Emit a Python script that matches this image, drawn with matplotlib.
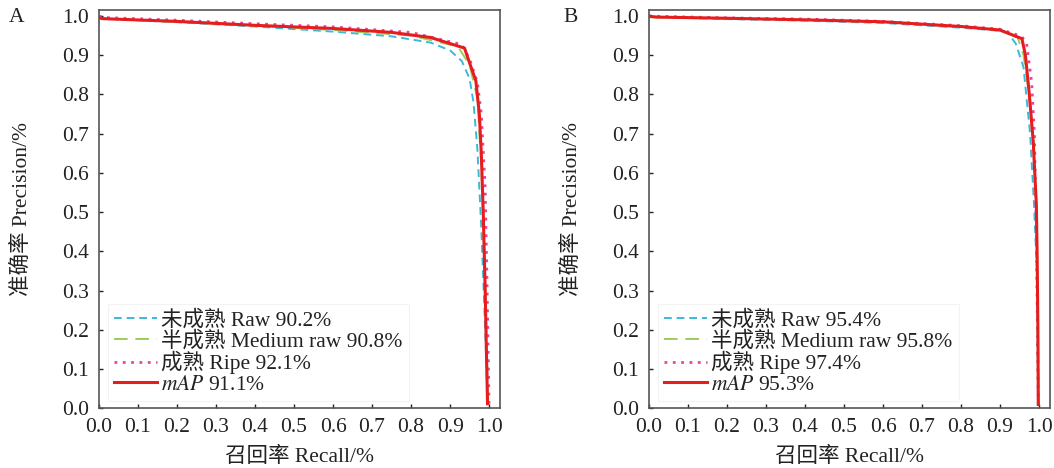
import matplotlib
matplotlib.use("Agg")
import matplotlib.pyplot as plt

plt.rcParams['font.family'] = ['Liberation Serif', 'Noto Sans CJK SC']
plt.rcParams['mathtext.fontset'] = 'stix'

# ---------------- data ----------------
xticks = [0.0, 0.1, 0.2, 0.3, 0.4, 0.5, 0.6, 0.7, 0.8, 0.9, 1.0]
yticks = [0.0, 0.1, 0.2, 0.3, 0.4, 0.5, 0.6, 0.7, 0.8, 0.9, 1.0]

labels_a = ['未成熟 Raw 90.2%', '半成熟 Medium raw 90.8%', '成熟 Ripe 92.1%', r'$mAP$ 91.1%']
labels_b = ['未成熟 Raw 95.4%', '半成熟 Medium raw 95.8%', '成熟 Ripe 97.4%', r'$mAP$ 95.3%']

# Panel A curves
a_raw_r = [0.0, 0.01, 0.2, 0.4, 0.6, 0.75, 0.85, 0.9, 0.93, 0.95, 0.96, 0.97, 0.98, 0.99, 0.997]
a_raw_p = [0.998, 0.993, 0.984, 0.973, 0.960, 0.948, 0.932, 0.912, 0.885, 0.840, 0.780, 0.660, 0.460, 0.200, 0.0]
a_med_r = [0.0, 0.01, 0.2, 0.4, 0.6, 0.8, 0.92, 0.95, 0.97, 0.98, 0.99, 0.998]
a_med_p = [0.996, 0.993, 0.985, 0.975, 0.964, 0.950, 0.922, 0.875, 0.790, 0.620, 0.320, 0.0]
a_rip_r = [0.0, 0.01, 0.2, 0.4, 0.6, 0.8, 0.93, 0.95, 0.97, 0.98, 0.99, 0.995, 1.0]
a_rip_p = [1.0, 0.996, 0.989, 0.980, 0.972, 0.958, 0.927, 0.890, 0.830, 0.750, 0.560, 0.300, 0.0]
a_map_r = [0.0, 0.01, 0.2, 0.4, 0.6, 0.75, 0.85, 0.937, 0.95, 0.966, 0.975, 0.98, 0.985, 0.99, 0.993, 0.996]
a_map_p = [0.995, 0.993, 0.986, 0.976, 0.968, 0.958, 0.945, 0.918, 0.880, 0.835, 0.750, 0.650, 0.500, 0.300, 0.150, 0.012]

# Panel B curves
b_raw_r = [0.0, 0.02, 0.2, 0.4, 0.6, 0.8, 0.9, 0.921, 0.94, 0.96, 0.977, 0.987, 0.994, 0.998]
b_raw_p = [0.998, 0.997, 0.992, 0.988, 0.982, 0.970, 0.962, 0.955, 0.930, 0.870, 0.700, 0.520, 0.360, 0.020]
b_med_r = [0.0, 0.02, 0.2, 0.4, 0.6, 0.8, 0.9, 0.945, 0.96, 0.975, 0.985, 0.992, 0.996, 0.999]
b_med_p = [0.997, 0.996, 0.993, 0.990, 0.984, 0.972, 0.963, 0.945, 0.900, 0.800, 0.680, 0.520, 0.300, 0.010]
b_rip_r = [0.0, 0.02, 0.2, 0.4, 0.6, 0.8, 0.9, 0.955, 0.968, 0.981, 0.988, 0.993, 0.998]
b_rip_p = [1.0, 0.999, 0.995, 0.992, 0.986, 0.975, 0.966, 0.948, 0.930, 0.830, 0.700, 0.450, 0.010]
b_map_r = [0.0, 0.02, 0.2, 0.4, 0.6, 0.8, 0.9, 0.956, 0.965, 0.975, 0.985, 0.993, 0.995, 0.997, 0.998]
b_map_p = [0.999, 0.997, 0.994, 0.990, 0.985, 0.973, 0.964, 0.942, 0.900, 0.800, 0.680, 0.520, 0.400, 0.200, 0.010]

# ---------------- styles ----------------
c_raw = '#3cb8d8'
c_med = '#9ccc5c'
c_rip = '#e8449c'
c_map = '#e61d1d'

fig = plt.figure(figsize=(10.54, 4.68), dpi=100)
ax_a = fig.add_axes([0.0939, 0.1273, 0.3805, 0.8513])
ax_b = fig.add_axes([0.6157, 0.1273, 0.3805, 0.8513])

FS = 15.5

def draw(ax, raw, med, rip, mp, labels):
    ax.plot(raw[0], raw[1], color=c_raw, lw=1.4, ls=(0, (4, 2.5)), label=labels[0])
    ax.plot(med[0], med[1], color=c_med, lw=1.4, ls=(0, (7, 4)), label=labels[1])
    ax.plot(rip[0], rip[1], color=c_rip, lw=2.0, ls=(0, (1, 2)), label=labels[2])
    ax.plot(mp[0], mp[1], color=c_map, lw=2.2, ls='-', label=labels[3])
    ax.set_xlim(0, 1.028)
    ax.set_ylim(0, 1.015)
    ax.set_xticks(xticks)
    ax.set_yticks(yticks)
    ax.set_xticklabels([f'{v:.1f}' for v in xticks])
    ax.set_yticklabels([f'{v:.1f}' for v in yticks])
    ax.tick_params(direction='in', length=3, width=1, labelsize=FS, colors='#222222',
                   pad=7)
    for s in ax.spines.values():
        s.set_color('#555555')
        s.set_linewidth(1.2)
    ax.set_xlabel('召回率 Recall/%', fontsize=FS, color='#222222')
    ax.set_ylabel('准确率 Precision/%', fontsize=FS, color='#222222')
    ax.xaxis.set_label_coords(0.5, -0.097)
    ax.yaxis.set_label_coords(-0.167, 0.5)
    leg = ax.legend(loc='lower left', bbox_to_anchor=(0.0, -0.003), fontsize=FS,
                    frameon=True, fancybox=False, edgecolor='#f0f0f0',
                    handlelength=2.0, handletextpad=0.2, labelspacing=0.0,
                    borderpad=0.3, borderaxespad=0.4)
    leg.get_frame().set_linewidth(0.8)
    for t in leg.get_texts():
        t.set_color('#222222')

draw(ax_a, (a_raw_r, a_raw_p), (a_med_r, a_med_p), (a_rip_r, a_rip_p), (a_map_r, a_map_p), labels_a)
draw(ax_b, (b_raw_r, b_raw_p), (b_med_r, b_med_p), (b_rip_r, b_rip_p), (b_map_r, b_map_p), labels_b)

fig.text(0.008, 0.962, 'A', fontsize=FS, color='#222222', va='center')
fig.text(0.535, 0.962, 'B', fontsize=FS, color='#222222', va='center')

fig.savefig('out.png', dpi=100)
